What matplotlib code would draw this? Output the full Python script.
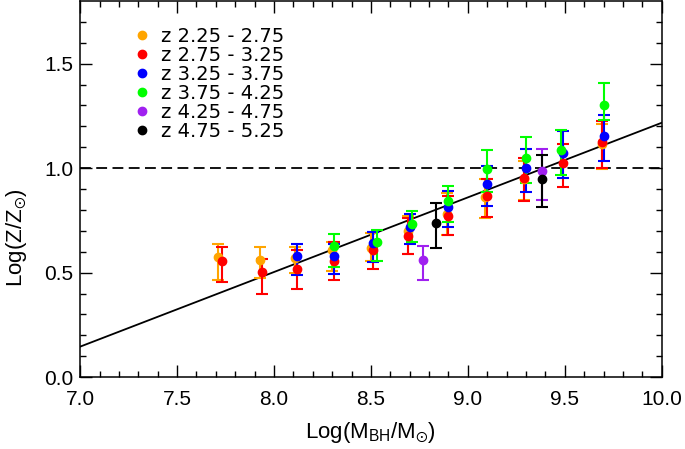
import numpy as np
import matplotlib.pyplot as plt
from matplotlib.lines import Line2D

plt.rcParams['font.family'] = ['Liberation Sans', 'DejaVu Sans']
plt.rcParams['mathtext.default'] = 'regular'

# redshift bins
labels = ['z 2.25 - 2.75', 'z 2.75 - 3.25', 'z 3.25 - 3.75',
          'z 3.75 - 4.25', 'z 4.25 - 4.75', 'z 4.75 - 5.25']
colors = ['#FFA500', '#FF0000', '#0000FF', '#00FF00', '#A020F0', '#000000']

# z 2.25 - 2.75
x_orange = [7.71, 7.93, 8.11, 8.30, 8.50, 8.69, 8.89, 9.09, 9.29, 9.69]
y_orange = [0.574, 0.562, 0.570, 0.606, 0.620, 0.700, 0.780, 0.860, 0.950, 1.117]
lo_orange = [0.463, 0.476, 0.500, 0.508, 0.554, 0.587, 0.682, 0.762, 0.848, 0.995]
hi_orange = [0.638, 0.622, 0.622, 0.646, 0.690, 0.770, 0.880, 0.948, 1.035, 1.210]

# z 2.75 - 3.25
x_red = [7.73, 7.94, 8.12, 8.31, 8.51, 8.69, 8.90, 9.10, 9.29, 9.49, 9.69]
y_red = [0.554, 0.503, 0.516, 0.556, 0.606, 0.675, 0.773, 0.868, 0.955, 1.024, 1.125]
lo_red = [0.455, 0.400, 0.424, 0.467, 0.516, 0.590, 0.678, 0.765, 0.841, 0.911, 1.000]
hi_red = [0.625, 0.567, 0.606, 0.646, 0.696, 0.760, 0.868, 0.948, 1.050, 1.114, 1.225]

# z 3.25 - 3.75
x_blue = [8.12, 8.31, 8.51, 8.70, 8.90, 9.10, 9.30, 9.49, 9.70]
y_blue = [0.578, 0.582, 0.641, 0.717, 0.816, 0.924, 1.000, 1.074, 1.154]
lo_blue = [0.487, 0.495, 0.551, 0.635, 0.717, 0.818, 0.884, 0.952, 1.035]
hi_blue = [0.638, 0.638, 0.693, 0.781, 0.892, 1.010, 1.090, 1.178, 1.252]

# z 3.75 - 4.25
x_green = [8.31, 8.53, 8.71, 8.90, 9.10, 9.30, 9.48, 9.70]
y_green = [0.627, 0.646, 0.733, 0.844, 0.998, 1.050, 1.087, 1.301]
lo_green = [0.527, 0.554, 0.646, 0.741, 0.884, 0.931, 0.968, 1.229]
hi_green = [0.686, 0.705, 0.797, 0.916, 1.085, 1.149, 1.181, 1.408]

# z 4.25 - 4.75
x_purple = [8.77, 9.385]
y_purple = [0.562, 0.984]
lo_purple = [0.463, 0.848]
hi_purple = [0.627, 1.093]

# z 4.75 - 5.25
x_black = [8.838, 9.38]
y_black = [0.736, 0.946]
lo_black = [0.620, 0.812]
hi_black = [0.835, 1.062]

# linear fit
fit_slope = 0.357
fit_intercept = 0.146 - 0.357 * 7.0

series = [
    (x_orange, y_orange, lo_orange, hi_orange),
    (x_red, y_red, lo_red, hi_red),
    (x_blue, y_blue, lo_blue, hi_blue),
    (x_green, y_green, lo_green, hi_green),
    (x_purple, y_purple, lo_purple, hi_purple),
    (x_black, y_black, lo_black, hi_black),
]

fig = plt.figure(figsize=(6.85, 4.49), dpi=100)
ax = fig.add_axes([0.117, 0.160, 0.849, 0.838])

xfit = np.array([7.0, 10.0])
ax.plot(xfit, fit_slope * xfit + fit_intercept, color='black', lw=1.3, zorder=1)
ax.axhline(1.0, color='black', lw=1.3, ls=(0, (6, 3)), zorder=1)

for (x, y, lo, hi), c in zip(series, colors):
    y = np.array(y)
    yerr = [y - np.array(lo), np.array(hi) - y]
    ax.errorbar(x, y, yerr=yerr, fmt='o', color=c, ms=6, elinewidth=1.5,
                capsize=4.5, capthick=1.5, zorder=2)

handles = [Line2D([], [], marker='o', ls='', color=c, ms=6) for c in colors]
ax.legend(handles, labels, loc='upper left', bbox_to_anchor=(0.094, 0.93),
          frameon=False, prop={'family': 'DejaVu Sans', 'size': 14},
          handlelength=0.75, handletextpad=0.6, labelspacing=0.0,
          borderpad=0, borderaxespad=0)

ax.set_xlim(7.0, 10.0)
ax.set_ylim(0.0, 1.8)
ax.set_xticks(np.arange(7.0, 10.01, 0.5))
ax.set_yticks([0.0, 0.5, 1.0, 1.5])
ax.set_xticks(np.arange(7.0, 10.0, 0.1), minor=True)
ax.set_yticks(np.arange(0.0, 1.8, 0.1), minor=True)
ax.xaxis.set_major_formatter(plt.FormatStrFormatter('%.1f'))
ax.yaxis.set_major_formatter(plt.FormatStrFormatter('%.1f'))
ax.tick_params(which='both', direction='in', top=True, right=True, labelsize=15)
ax.tick_params(which='major', length=8.6, width=1.0)
ax.tick_params(which='minor', length=4.3, width=1.0)
ax.tick_params(axis='x', which='major', pad=9)
ax.tick_params(axis='y', which='major', pad=5)
for s in ax.spines.values():
    s.set_linewidth(1.1)

ax.set_xlabel('Log(M$_{BH}$/M$_{\\odot}$)', fontsize=16)
ax.set_ylabel('Log(Z/Z$_{\\odot}$)', fontsize=16)
ax.xaxis.set_label_coords(0.5, -0.115)
ax.yaxis.set_label_coords(-0.088, 0.37)

fig.savefig('out.png', dpi=100)
